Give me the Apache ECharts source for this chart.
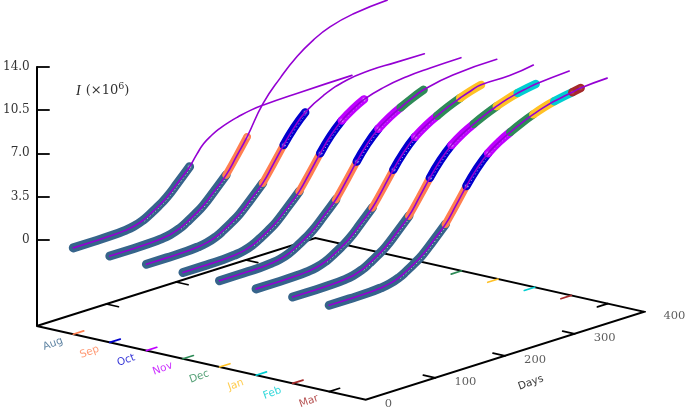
<!DOCTYPE html>
<html>
<head>
<meta charset="utf-8">
<style>html,body{margin:0;padding:0;background:#fff}#c{width:685px;height:411px}</style>
<script src="https://cdn.jsdelivr.net/npm/echarts@6/dist/echarts.min.js"></script>
</head>
<body>
<div id="c"></div>
<script>
const months = ['Aug','Sep','Oct','Nov','Dec','Jan','Feb','Mar'];
const monthColors = ['#36648b','#ff7f50','#0000cd','#bf00ff','#2e8b57','#ffc125','#00ced1','#a52a2a'];
const tickColors = ['#ff7f50','#0000cd','#bf00ff','#2e8b57','#ffc125','#00ced1','#a52a2a','#000000'];
const dayTicks = [0,100,200,300,400];
const iTicks = [0,3.5,7,10.5,14];

// observed infections, shared by every run
const actualDays = [0,29,58,73,87,100,111,122,134,150,167,182,197,212,228,244,260,276,293,308,323,337,349,361];
const actualI    = [0,0,0.02,0.08,0.2,0.45,0.8,1.2,1.7,2.6,3.6,4.85,6.15,7.3,8.25,8.9,9.4,9.85,10.25,10.55,10.78,10.93,11.05,11.18];
// last observed day of each monthly run
const lastDay = [167,197,228,260,293,323,349,361];

// forecast tails, one for each run
const fcAugDays = [177,187,199,211,223,236,255,273,322,400];
const fcAugI    = [4.4,5.1,5.6,5.95,6.2,6.4,6.62,6.72,6.8,6.85];
const fcSepDays = [220,245,269,292,316,349,398];
const fcSepI    = [8.45,10.1,11.4,12.3,12.95,13.4,13.65];
const fcOctDays = [254,288,321,357,399];
const fcOctI    = [9.15,9.8,10.0,9.98,9.95];
const fcNovDays = [287,322,355,399];
const fcNovI    = [9.85,10.15,10.25,10.3];
const fcDecDays = [335,398];
const fcDecI    = [10.7,10.85];
const fcJanDays = [364,398];
const fcJanI    = [10.8,11.05];
const fcFebDays = [397];
const fcFebI    = [11.25];
const fcMarDays = [399];
const fcMarI    = [11.3];
const fcDays = [fcAugDays,fcSepDays,fcOctDays,fcNovDays,fcDecDays,fcJanDays,fcFebDays,fcMarDays];
const fcI    = [fcAugI,fcSepI,fcOctI,fcNovI,fcDecI,fcJanI,fcFebI,fcMarI];

// oblique projection of (month slot, day, I) on the plane of the value axes
const P = {mx:36.6, dx:0.6975, my:8.2, dy:-0.22, yUnit:12.333, floor:-7};
function project(m,d,i){ return [P.mx*m+P.dx*d, i-(P.my*m+P.dy*d)/P.yUnit]; }

const series = [];
const serif = '"DejaVu Serif"';
function line(name,data,color,width,z,extra){
  series.push(Object.assign({type:'line',name,data,clip:false,silent:true,showSymbol:false,symbol:'none',z,
    lineStyle:{color,width,cap:'round',join:'round'},connectNulls:false},extra||{}));
}

// floor of the box
const corners = [[0,0],[9,0],[9,400],[0,400],[0,0]];
line('floor',corners.map(c=>project(c[0],c[1],P.floor)),'#000',2,1,{lineStyle:{color:'#000',width:2,cap:'butt',join:'miter'}});
// day ticks on both long edges
dayTicks.slice(1,4).forEach(d=>{
  line('dayTickBack',[project(0,d,P.floor),project(0.33,d,P.floor)],'#000',1.7,1);
  line('dayTickFront',[project(9,d,P.floor),project(8.67,d,P.floor)],'#000',1.7,1);
});
// month ticks on both short edges; the first three on the far edge sit behind the curves
tickColors.forEach((c,k)=>{
  line('monthTickFront',[project(k+1,0,P.floor),project(k+1,15,P.floor)],c,1.7,1);
  if(k>=3) line('monthTickBack',[project(k+1,400,P.floor),project(k+1,385,P.floor)],c,1.7,1);
});

months.forEach((mName,k)=>{
  const slot = k+1;
  const base = 10+k*5;
  // thick observed bands, month by month
  for(let s=0;s<=k;s++){
    const from = s===0?0:lastDay[s-1], to = lastDay[s];
    const pts = [];
    actualDays.forEach((d,j)=>{ if(d>=from&&d<=to) pts.push(project(slot,d,actualI[j])); });
    const w = s===0?9:(s===1?7.6:8.4);
    line(mName+' band '+months[s],pts,monthColors[s],w,base+s*0.1,{smooth:0.5});
    // hollow marker at the end of the band
    const rings = s===0?[pts[pts.length-1]]:[pts[0],pts[pts.length-1]];
    if(s<4||s===7) series.push({type:'scatter',clip:false,silent:true,z:base+s*0.1+0.01,data:s===1?[pts[pts.length-1]]:rings,symbolSize:5,
      itemStyle:{color:s===7?'rgba(255,255,255,0.25)':'rgba(255,255,255,0.7)',borderColor:monthColors[s],borderWidth:2}});
    // gaps between markers on the steep stretches
    if(s===0||s===2||s===3){
      const dots = [];
      actualDays.forEach((d,j)=>{ if(d>=Math.max(from,100)&&d<=to) dots.push(project(slot,d+2.2,actualI[j]-0.1)); });
      const col = 'rgba(255,255,255,'+(s===3?0.4:0.75)+')';
      line(mName+' gaps '+months[s],dots,col,1,base+s*0.1+0.02,
        {smooth:0.5,lineStyle:{color:col,width:1,type:[1,2.6],cap:'butt'}});
    }
  }
  // thin fitted curve with its forecast
  const pts = [];
  actualDays.forEach((d,j)=>{ if(d<=lastDay[k]) pts.push(project(slot,d,actualI[j])); });
  fcDays[k].forEach((d,j)=>pts.push(project(slot,d,fcI[k][j])));
  line(mName+' curve',pts,'#9400d3',1.6,base+2,{smooth:0.5});
  // month label
  series.push({type:'scatter',clip:false,silent:true,z:5,symbolSize:0,data:[project(slot+0.17,-38,P.floor)],
    label:{show:true,position:'inside',formatter:mName,rotate:20,color:monthColors[k],fontFamily:'"DejaVu Sans"',fontSize:10.5}});
});

// day labels
dayTicks.forEach(d=>{
  series.push({type:'scatter',clip:false,silent:true,z:5,symbolSize:0,data:[project(9,d,P.floor)],
    label:{show:true,position:'inside',align:'left',offset:[19,4],formatter:String(d),color:'#333',fontFamily:serif,fontSize:11.5}});
});
series.push({type:'scatter',clip:false,silent:true,z:5,symbolSize:0,data:[project(9,237,P.floor-2.84)],
  label:{show:true,position:'inside',formatter:'Days',rotate:20,color:'#000',fontFamily:'"DejaVu Sans"',fontSize:10.5}});

const chart = echarts.init(document.getElementById('c'),null,{renderer:'canvas'});
chart.setOption({
  animation:false,
  backgroundColor:'#fff',
  title:{left:76,top:82,padding:0,text:'{i|I} {t|(×10}{s|6}{t|)}',
    textStyle:{fontWeight:'normal',rich:{
      i:{fontFamily:'"Liberation Serif"',fontStyle:'italic',fontWeight:'normal',fontSize:14,color:'#222'},
      t:{fontFamily:serif,fontWeight:'normal',fontSize:13,color:'#333'},
      s:{fontFamily:serif,fontWeight:'normal',fontSize:9.5,color:'#333',verticalAlign:'top',padding:[0,0,6,0]}
    }}},
  grid:{left:36,top:67,width:608,height:259,containLabel:false},
  xAxis:{type:'value',min:0,max:608,show:false},
  yAxis:{type:'value',min:-7,max:14,interval:3.5,
    axisLine:{show:true,onZero:false,lineStyle:{color:'#000',width:2}},
    splitLine:{show:false},
    axisTick:{show:true,inside:true,length:13,lineStyle:{color:'#000',width:1.8},customValues:iTicks},
    axisLabel:{color:'#333',fontFamily:serif,fontSize:12,margin:7,customValues:iTicks,
      formatter:v=>v===0?'0':v.toFixed(1)}},
  series
});
</script>
</body>
</html>
